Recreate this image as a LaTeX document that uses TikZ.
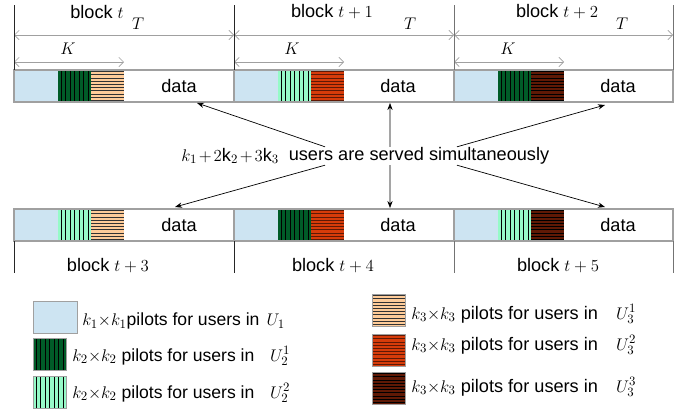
\documentclass[tikz,border=0pt]{standalone}
\usepackage{fontspec}
\setmainfont{Liberation Sans}
\usetikzlibrary{arrows.meta,positioning}
\definecolor{pilotblue}{RGB}{205,228,242}
\definecolor{darkgreen}{RGB}{0,92,40}
\definecolor{mint}{RGB}{150,250,200}
\definecolor{peach}{RGB}{255,204,153}
\definecolor{brick}{RGB}{215,60,10}
\definecolor{maroon}{RGB}{95,25,5}
\definecolor{framegray}{RGB}{160,160,160}
\tikzset{
    vbars/.pic={
        \fill[pic actions, draw=none] (0,0) rectangle (33,32);
        \foreach \i in {3,7.5,...,31} \draw[black, line width=0.6pt] (\i,0) -- (\i,32);
    },
    hbars/.pic={
        \fill[pic actions, draw=none] (0,0) rectangle (33,32);
        \foreach \j in {1.6,4.8,...,31} \draw[pic actions, fill=none, line width=0.6pt] (0,\j) -- (33,\j);
    },
    span/.style={framegray, line width=0.6pt, {Straight Barb[length=4pt,width=8pt]}-{Straight Barb[length=4pt,width=8pt]}},
    serve/.style={-{Stealth[length=6pt,width=4.5pt]}, line width=0.6pt},
    legtext/.style={anchor=west, inner sep=1pt},
}

\begin{document}
\begin{tikzpicture}[x=0.03cm, y=-0.03cm, font=\fontsize{15.5}{18}\selectfont]
    \useasboundingbox (0,0) rectangle (684,412);
    %top row
    \begin{scope}
    \fill[pilotblue] (14,70) rectangle (58,102);
    \pic[fill=darkgreen] at (58,70) {vbars};
    \pic[fill=peach, draw=black!80] at (91,70) {hbars};
    \node (data1) at (179,86) {data};
    \node (block1) at (97,12) {block $t$};
    \draw[span] (14,35) -- (234,35);
    \node at (138,24) {$T$};
    \draw[span] (14,62) -- (124,62);
    \node at (68,49) {$K$};
    \end{scope}
    \begin{scope}[xshift=6.6cm]
    \fill[pilotblue] (14,70) rectangle (58,102);
    \pic[fill=mint] at (58,70) {vbars};
    \pic[fill=brick, draw=maroon] at (91,70) {hbars};
    \node (data2) at (178,86) {data};
    \node (block2) at (112,12) {block $t+1$};
    \draw[span] (14,35) -- (234,35);
    \node at (190,24) {$T$};
    \draw[span] (14,62) -- (124,62);
    \node at (72,49) {$K$};
    \end{scope}
    \begin{scope}[xshift=13.2cm]
    \fill[pilotblue] (14,70) rectangle (58,102);
    \pic[fill=darkgreen] at (58,70) {vbars};
    \pic[fill=maroon, draw=black] at (91,70) {hbars};
    \node (data3) at (178,86) {data};
    \node (block3) at (117,12) {block $t+2$};
    \draw[span] (14,35) -- (233,35);
    \node at (182,24) {$T$};
    \draw[span] (14,62) -- (124,62);
    \node at (68,49) {$K$};
    \end{scope}
    \draw[framegray, line width=1pt] (14,70) rectangle (673,102);
    \draw[framegray, line width=1pt] (234,70) -- (234,102) (454,70) -- (454,102);
    \draw[black!85, line width=0.8pt] (14,5) -- (14,70) (234,5) -- (234,70);
    \draw[black!55, line width=0.8pt] (454,5) -- (454,70) (673,5) -- (673,70);
    %bottom row
    \begin{scope}
    \fill[pilotblue] (14,209) rectangle (58,241);
    \pic[fill=mint] at (58,209) {vbars};
    \pic[fill=peach, draw=black!80] at (91,209) {hbars};
    \node (data4) at (179,225) {data};
    \node (block4) at (108,266) {block $t+3$};
    \end{scope}
    \begin{scope}[xshift=6.6cm]
    \fill[pilotblue] (14,209) rectangle (58,241);
    \pic[fill=darkgreen] at (58,209) {vbars};
    \pic[fill=brick, draw=maroon] at (91,209) {hbars};
    \node (data5) at (178,225) {data};
    \node (block5) at (113,266) {block $t+4$};
    \end{scope}
    \begin{scope}[xshift=13.2cm]
    \fill[pilotblue] (14,209) rectangle (58,241);
    \pic[fill=mint] at (58,209) {vbars};
    \pic[fill=maroon, draw=black] at (91,209) {hbars};
    \node (data6) at (178,225) {data};
    \node (block6) at (118,266) {block $t+5$};
    \end{scope}
    \draw[framegray, line width=1pt] (14,209) rectangle (673,241);
    \draw[framegray, line width=1pt] (234,209) -- (234,241) (454,209) -- (454,241);
    \draw[black!85, line width=0.8pt] (14,241) -- (14,273) (234,241) -- (234,273);
    \draw[black!55, line width=0.8pt] (454,241) -- (454,273) (673,241) -- (673,273);
    %users served
    \node[inner sep=0pt, minimum height=15.3pt] (users) at (419,156) {users are served simultaneously};
    \node[left=8pt of users, inner sep=0pt] (count) {$k_1\mkern2mu{+}\mkern2mu2\mathrm{k}_2\mkern2mu{+}\mkern2mu3\mathrm{k}_3$};
    \coordinate (top1) at (197,103);
    \coordinate (top2) at (390,103);
    \coordinate (top3) at (605,105);
    \coordinate (bot1) at (175,207);
    \coordinate (bot2) at (390,208);
    \coordinate (bot3) at (605,207);
    \draw[serve] ([xshift=-2.82cm]users.north) -- (top1);
    \draw[serve] ([xshift=-0.87cm]users.north) -- (top2);
    \draw[serve] ([xshift=1.14cm]users.north) -- (top3);
    \draw[serve] ([xshift=-2.82cm]users.south) -- (bot1);
    \draw[serve] ([xshift=-0.87cm]users.south) -- (bot2);
    \draw[serve] ([xshift=1.14cm]users.south) -- (bot3);
    %legend
    \begin{scope}[font=\fontsize{15}{18}\selectfont]
    \fill[pilotblue] (33,301) rectangle (77,333);
    \draw[framegray] (33,301) rectangle (77,333);
    \node[legtext] (leg1) at (81,321) {$k_1{\times}k_1$pilots for users in\hspace{0.4em}$U_1$};
    \pic[fill=darkgreen] at (33,338) {vbars};
    \draw[framegray] (33,338) rectangle (66,370);
    \node[legtext] (leg2) at (71,356) {$k_2{\times}k_2$ pilots for users in\hspace{0.9em}$U_2^1$};
    \pic[fill=mint] at (33,376) {vbars};
    \draw[framegray] (33,376) rectangle (66,408);
    \node[legtext] (leg3) at (71,393) {$k_2{\times}k_2$ pilots for users in\hspace{0.9em}$U_2^2$};
    \end{scope}
    \pic[fill=peach, draw=black!80] at (372,294) {hbars};
    \draw[framegray] (372,294) rectangle (405,326);
    \node[legtext] (leg4) at (410,314) {$k_3{\times}k_3$ pilots for users in\hspace{1em}$U_3^1$};
    \pic[fill=brick, draw=maroon] at (372,334) {hbars};
    \draw[framegray] (372,334) rectangle (405,366);
    \node[legtext] (leg5) at (410,345) {$k_3{\times}k_3$ pilots for users in\hspace{1em}$U_3^2$};
    \pic[fill=maroon, draw=black] at (372,372) {hbars};
    \draw[framegray] (372,372) rectangle (405,404);
    \node[legtext] (leg6) at (410,387) {$k_3{\times}k_3$ pilots for users in\hspace{1em}$U_3^3$};
\end{tikzpicture}
\end{document}
